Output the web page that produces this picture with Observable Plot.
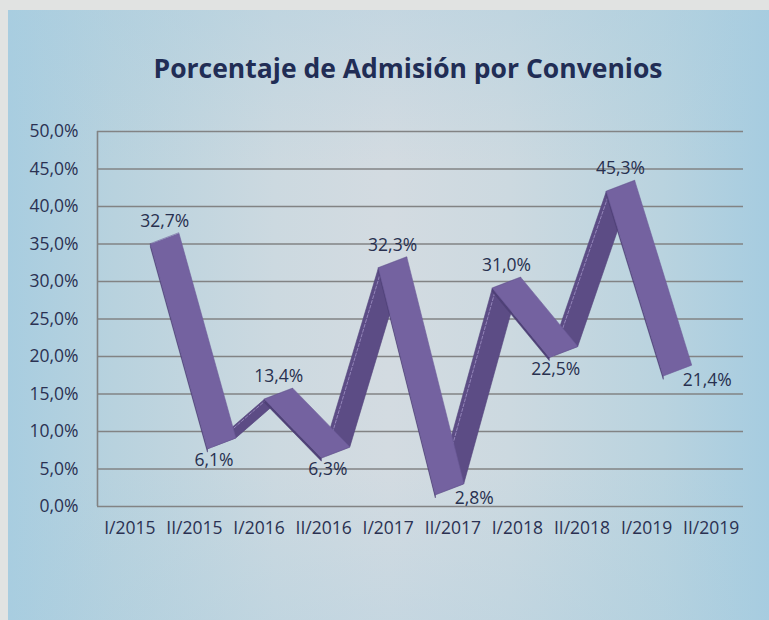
<!DOCTYPE html>
<html>
<head>
<meta charset="utf-8">
<script src="https://cdn.jsdelivr.net/npm/d3@7"></script>
<script src="https://cdn.jsdelivr.net/npm/@observablehq/plot@0.6"></script>
<style>
  html, body { margin: 0; padding: 0; background: #e1e3e2; }
  #page { position: relative; width: 769px; height: 620px; overflow: hidden; background: #e1e3e2; }
  #card { position: absolute; left: 8px; top: 10px; width: 761px; height: 610px;
    background: linear-gradient(to right, #a8cde0 0%, #b8d2de 14%, #ccd9e0 35%, #d3dbe1 50%, #ccd9e0 66%, #b9d3df 86%, #a6cce0 100%); }
  #shade { position: absolute; left: 0; top: 0; width: 761px; height: 610px;
    background: linear-gradient(to bottom, rgba(168,205,224,0.35) 0%, rgba(168,205,224,0) 25%, rgba(168,205,224,0) 75%, rgba(168,205,224,0.3) 100%); }
  #title { position: absolute; left: 0; top: 40px; width: 800px; text-align: center;
    font-family: "Open Sans", sans-serif; font-weight: bold; font-size: 26.5px; color: #212d55; }
  #chart { position: absolute; left: 0; top: 100px; }
</style>
</head>
<body>
<div id="page"><div id="card"><div id="shade"></div>
  <div id="title">Porcentaje de Admisión por Convenios</div>
  <div id="chart"></div>
</div></div>
<script>
// ---- data ----
const categories = ["I/2015","II/2015","I/2016","II/2016","I/2017","II/2017","I/2018","II/2018","I/2019","II/2019"];
const values = [32.7, 6.1, 13.4, 6.3, 32.3, 2.8, 31.0, 22.5, 45.3, 21.4];
const yTicks = [0, 5, 10, 15, 20, 25, 30, 35, 40, 45, 50];
const labelPlacement = ["top","bottom","top","bottom","top","right","top","bottom","top","right"];

// ---- 3D ribbon projection (style constants) ----
const persp = {x0: 0.32, xStep: 0.882, yShift: 2.3, yTilt: -0.7, depthX: 0.44, depthY: 1.45, thick: 0.45};
const fx = i => persp.x0 + persp.xStep * i;
const fy = (i, v) => v + persp.yShift + persp.yTilt * i;

const pts = values.map((v, i) => ({i, v, x: fx(i), y: fy(i, v)}));
const faces = [];
const strips = [];
const edges = [];
for (let i = 0; i < pts.length - 1; i++) {
  const a = pts[i], b = pts[i + 1];
  const rising = b.v > a.v;
  const kind = rising ? "dark" : "light";
  [[a.x, a.y], [b.x, b.y], [b.x + persp.depthX, b.y + persp.depthY], [a.x + persp.depthX, a.y + persp.depthY]]
    .forEach(([x, y]) => faces.push({seg: i, kind, x, y}));
  [[a.x, a.y], [b.x, b.y], [b.x, b.y - persp.thick], [a.x, a.y - persp.thick]]
    .forEach(([x, y]) => strips.push({seg: i, kind, x, y}));
  if (rising) {
    edges.push({seg: i, x: a.x + 0.06, y: a.y + 0.15}, {seg: i, x: b.x + 0.06, y: b.y + 0.15});
  }
}
const darkFaces = faces.filter(d => d.kind === "dark");
const lightFaces = faces.filter(d => d.kind === "light");

const fmt = v => v.toFixed(1).replace(".", ",") + "%";

const topLabels = pts.filter((p, k) => labelPlacement[k] === "top")
  .map(p => ({x: p.x + persp.depthX / 2, y: p.y + persp.depthY, text: fmt(p.v)}));
const bottomLabels = pts.filter((p, k) => labelPlacement[k] === "bottom")
  .map(p => ({x: p.x + 0.1, y: p.y, text: fmt(p.v)}));
const rightLabels = pts.filter((p, k) => labelPlacement[k] === "right")
  .map(p => ({x: p.x + 0.3, y: p.y, text: fmt(p.v)}));

const labelStyle = {x: "x", y: "y", text: "text", fill: "#28304f", fontSize: 17.5};

const chart = Plot.plot({
  width: 761,
  height: 510,
  marginLeft: 89,
  marginRight: 26,
  marginTop: 21,
  marginBottom: 114,
  style: {background: "transparent", fontFamily: "Open Sans, sans-serif", fontSize: "17.5px", color: "#2b3152"},
  x: {domain: [-0.5, 9.5], ticks: d3.range(categories.length), tickFormat: i => categories[i], tickSize: 0, tickPadding: 15, label: null},
  y: {domain: [0, 50], ticks: yTicks, tickFormat: v => v.toFixed(1).replace(".", ",") + "%", tickSize: 0, tickPadding: 19, label: null},
  marks: [
    Plot.ruleY(yTicks, {x1: -0.5, x2: 9.5, stroke: "#828384", strokeWidth: 1.6}),
    Plot.ruleX([-0.5], {y1: 0, y2: 50, stroke: "#828384", strokeWidth: 1.6}),
    Plot.line(darkFaces, {x: "x", y: "y", z: "seg", fill: "#5c4c85", stroke: "#54457c", strokeWidth: 0.6, curve: "linear-closed"}),
    Plot.line(edges, {x: "x", y: "y", z: "seg", stroke: "#a193c6", strokeWidth: 0.8, strokeDasharray: "3,2"}),
    Plot.line(strips.filter(d => d.kind === "light"), {x: "x", y: "y", z: "seg", fill: "#4f4177", stroke: "#4f4177", strokeWidth: 0.5, curve: "linear-closed"}),
    Plot.line(lightFaces, {x: "x", y: "y", z: "seg", fill: "#7462a0", stroke: "#6c5b98", strokeWidth: 0.6, curve: "linear-closed"}),
    Plot.text(topLabels, {...labelStyle, dy: -12}),
    Plot.text(bottomLabels, {...labelStyle, dy: 12}),
    Plot.text(rightLabels, {...labelStyle, dy: 4, textAnchor: "start"})
  ]
});
document.getElementById("chart").appendChild(chart);
</script>
</body>
</html>
